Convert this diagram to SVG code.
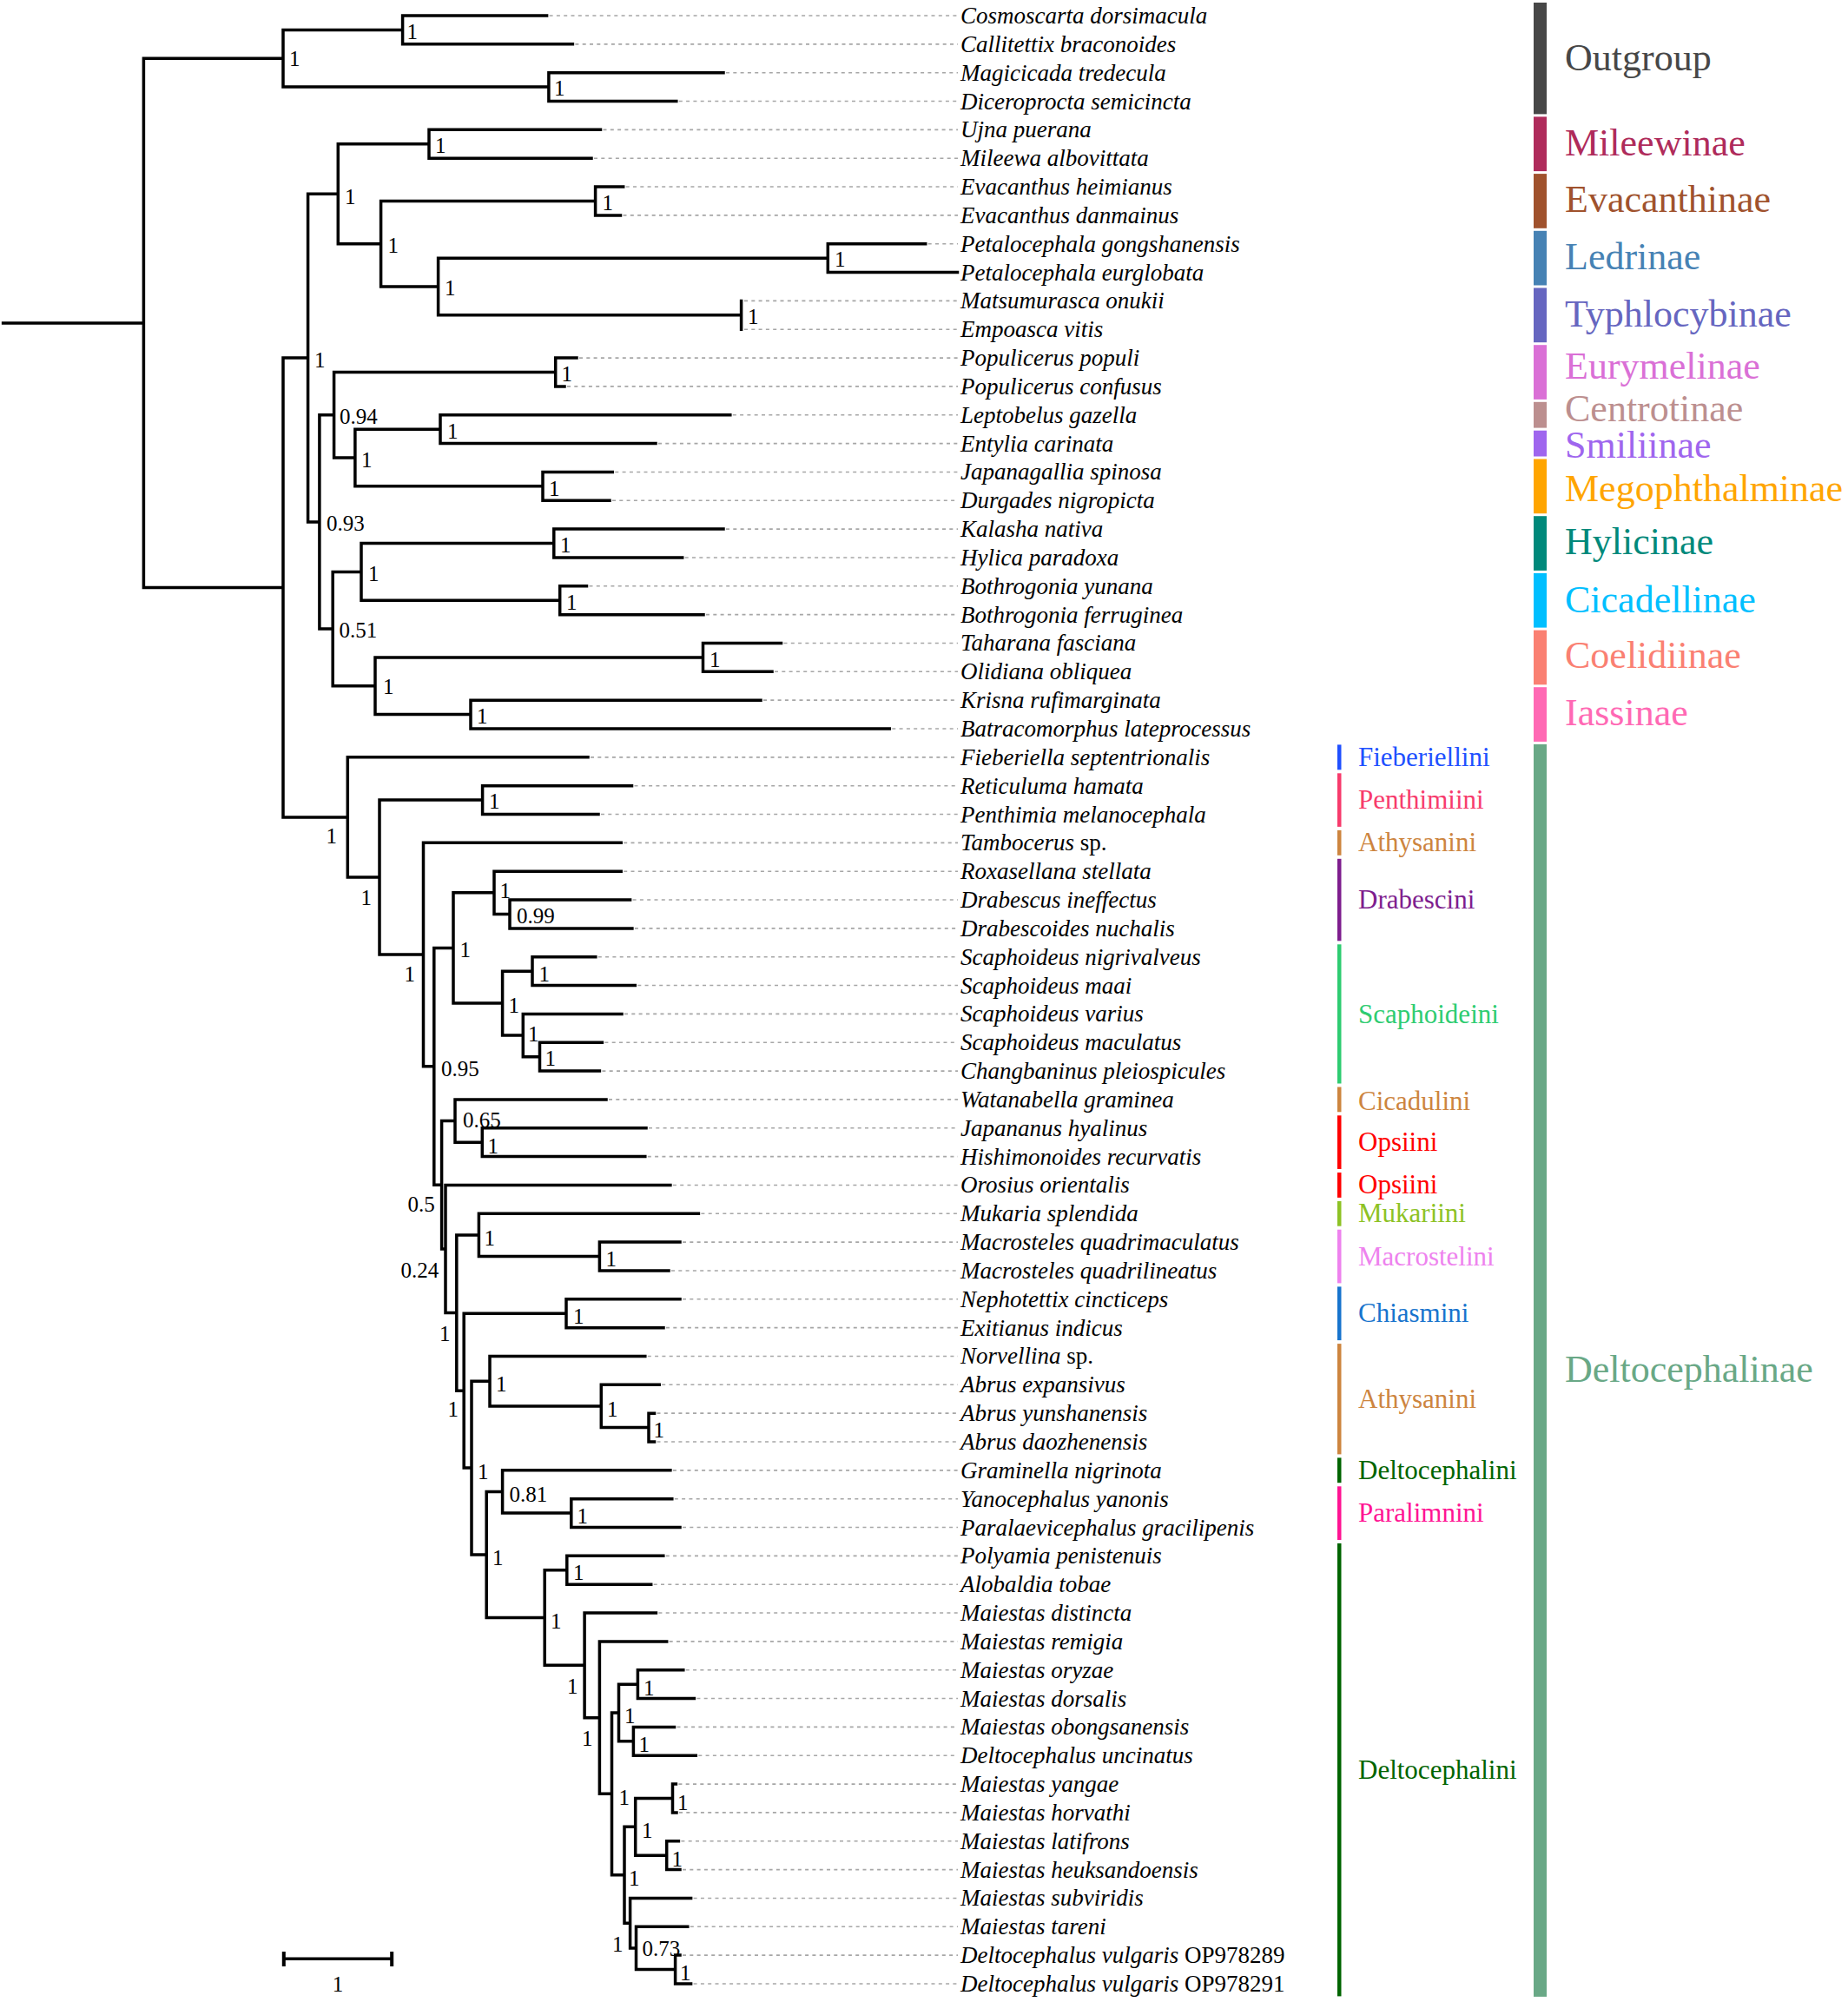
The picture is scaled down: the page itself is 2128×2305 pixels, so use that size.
<svg xmlns="http://www.w3.org/2000/svg" width="2128" height="2305" viewBox="0 0 2128 2305">
<style>
.br{fill:none;stroke:#000;stroke-width:3.5;stroke-linecap:square}
.ds{fill:none;stroke:#a6a6a6;stroke-width:1.6;stroke-dasharray:4 4.3}
text{font-family:"Liberation Serif","Times New Roman",serif}
.tip{font-style:italic;font-size:27px;fill:#000}
.rm{font-style:normal}
.sup{font-size:25px;fill:#000}
.sub{font-size:44px}
.tri{font-size:31px}
</style>
<rect width="2128" height="2305" fill="#fff"/>
<g id="connectors">
<path class="br" d="M3.6 371.9H165.4M165.4 67.26V676.5
M165.4 67.26H326M326 34.42V100.1
M326 34.42H463.6M463.6 18V50.84M463.6 18H629.6M463.6 50.84H659.4
M326 100.1H631.9M631.9 83.68V116.52M631.9 83.68H833M631.9 116.52H778.8
M165.4 676.5H326M326 412.08V940.97
M326 412.08H354.6M354.6 223.25V600.91
M354.6 223.25H389.3M389.3 165.78V280.72
M389.3 165.78H494M494 149.36V182.2M494 149.36H691.5M494 182.2H681
M389.3 280.72H438.6M438.6 231.46V329.98
M438.6 231.46H685.6M685.6 215.04V247.88M685.6 215.04H717.7M685.6 247.88H714.5
M438.6 329.98H504.6M504.6 297.14V362.82
M504.6 297.14H953.3M953.3 280.72V313.56M953.3 280.72H1065.7M953.3 313.56H1102.5
M504.6 362.82H853.6M853.6 346.4V379.24
M354.6 600.91H367.9M367.9 477.76V724.06
M367.9 477.76H384.6M384.6 428.5V527.02
M384.6 428.5H639.7M639.7 412.08V444.92M639.7 412.08H664M639.7 444.92H650
M384.6 527.02H408.9M408.9 494.18V559.86
M408.9 494.18H507M507 477.76V510.6M507 477.76H840.8M507 510.6H755
M408.9 559.86H625M625 543.44V576.28M625 543.44H705.3M625 576.28H702
M367.9 724.06H383.2M383.2 658.38V789.74
M383.2 658.38H416M416 625.54V691.22
M416 625.54H637.8M637.8 609.12V641.96M637.8 609.12H833M637.8 641.96H785.7
M416 691.22H644.7M644.7 674.8V707.64M644.7 674.8H675.5M644.7 707.64H810
M383.2 789.74H432M432 756.9V822.58
M432 756.9H809.5M809.5 740.48V773.32M809.5 740.48H899.5M809.5 773.32H889
M432 822.58H542M542 806.16V839M542 806.16H876M542 839H1024.3
M326 940.97H400.3M400.3 871.84V1010.1M400.3 871.84H677
M400.3 1010.1H437M437 921.1V1099.1
M437 921.1H555.6M555.6 904.68V937.52M555.6 904.68H727.5M555.6 937.52H689
M437 1099.1H487.5M487.5 970.36V1227.87M487.5 970.36H715.2
M487.5 1227.87H499.8M499.8 1091.46V1364.27
M499.8 1091.46H522M522 1027.83V1155.09
M522 1027.83H569M569 1003.2V1052.46M569 1003.2H715.2
M569 1052.46H587M587 1036.04V1068.88M587 1036.04H725.6M587 1068.88H727.9
M522 1155.09H578.6M578.6 1118.14V1192.03
M578.6 1118.14H613M613 1101.72V1134.56M613 1101.72H685.8M613 1134.56H731.3
M578.6 1192.03H602.3M602.3 1167.4V1216.66M602.3 1167.4H716
M602.3 1216.66H621.5M621.5 1200.24V1233.08M621.5 1200.24H693.4M621.5 1233.08H690.4
M499.8 1364.27H508.6M508.6 1290.55V1437.99
M508.6 1290.55H524M524 1265.92V1315.18M524 1265.92H698
M524 1315.18H555.3M555.3 1298.76V1331.6M555.3 1298.76H744M555.3 1331.6H742.8
M508.6 1437.99H513M513 1364.44V1511.54M513 1364.44H771.9
M513 1511.54H525.8M525.8 1421.91V1601.17
M525.8 1421.91H551.4M551.4 1397.28V1446.54M551.4 1397.28H804.4
M551.4 1446.54H690.4M690.4 1430.12V1462.96M690.4 1430.12H783M690.4 1462.96H770
M525.8 1601.17H534.2M534.2 1512.22V1690.12
M534.2 1512.22H652M652 1495.8V1528.64M652 1495.8H783M652 1528.64H764
M534.2 1690.12H543M543 1590.22V1790.01
M543 1590.22H564M564 1561.48V1618.95M564 1561.48H742.8
M564 1618.95H692.3M692.3 1594.32V1643.58M692.3 1594.32H759.2
M692.3 1643.58H747M747 1627.16V1660M747 1627.16H753.5M747 1660H753.5
M543 1790.01H560.2M560.2 1717.47V1862.56
M560.2 1717.47H578.6M578.6 1692.84V1742.1M578.6 1692.84H771.9
M578.6 1742.1H657.8M657.8 1725.68V1758.52M657.8 1725.68H773.8M657.8 1758.52H783
M560.2 1862.56H627.2M627.2 1807.78V1917.33
M627.2 1807.78H652.8M652.8 1791.36V1824.2M652.8 1791.36H763.8M652.8 1824.2H749.7
M627.2 1917.33H673.1M673.1 1857.04V1977.63M673.1 1857.04H755.4
M673.1 1977.63H690.4M690.4 1889.88V2065.37M690.4 1889.88H767.7
M690.4 2065.37H704.5M704.5 1971.98V2158.76
M704.5 1971.98H712.5M712.5 1939.14V2004.82
M712.5 1939.14H734.4M734.4 1922.72V1955.56M734.4 1922.72H786.8M734.4 1955.56H799.4
M712.5 2004.82H729.4M729.4 1988.4V2021.24M729.4 1988.4H776.5M729.4 2021.24H801.3
M704.5 2158.76H719M719 2103.34V2214.18
M719 2103.34H731.7M731.7 2070.5V2136.18
M731.7 2070.5H774.5M774.5 2054.08V2086.92M774.5 2054.08H778.4M774.5 2086.92H779
M731.7 2136.18H767.7M767.7 2119.76V2152.6M767.7 2119.76H781.4M767.7 2152.6H783
M719 2214.18H725.6M725.6 2185.44V2242.91M725.6 2185.44H795.6
M725.6 2242.91H732.5M732.5 2218.28V2267.54M732.5 2218.28H791.8
M732.5 2267.54H777.6M777.6 2251.12V2283.96M777.6 2251.12H783M777.6 2283.96H795.6"/>
<path class="ds" d="M632.6 18H1103M662.4 50.84H1103M836 83.68H1103M781.8 116.52H1103M694.5 149.36H1103M684 182.2H1103M720.7 215.04H1103M717.5 247.88H1103M1068.7 280.72H1103M857 346.4H1103M857 379.24H1103M667 412.08H1103M653 444.92H1103M843.8 477.76H1103M758 510.6H1103M708.3 543.44H1103M705 576.28H1103M836 609.12H1103M788.7 641.96H1103M678.5 674.8H1103M813 707.64H1103M902.5 740.48H1103M892 773.32H1103M879 806.16H1103M1027.3 839H1103M680 871.84H1103M730.5 904.68H1103M692 937.52H1103M718.2 970.36H1103M718.2 1003.2H1103M728.6 1036.04H1103M730.9 1068.88H1103M688.8 1101.72H1103M734.3 1134.56H1103M719 1167.4H1103M696.4 1200.24H1103M693.4 1233.08H1103M701 1265.92H1103M747 1298.76H1103M745.8 1331.6H1103M774.9 1364.44H1103M807.4 1397.28H1103M786 1430.12H1103M773 1462.96H1103M786 1495.8H1103M767 1528.64H1103M745.8 1561.48H1103M762.2 1594.32H1103M756.5 1627.16H1103M756.5 1660H1103M774.9 1692.84H1103M776.8 1725.68H1103M786 1758.52H1103M766.8 1791.36H1103M752.7 1824.2H1103M758.4 1857.04H1103M770.7 1889.88H1103M789.8 1922.72H1103M802.4 1955.56H1103M779.5 1988.4H1103M804.3 2021.24H1103M781.4 2054.08H1103M782 2086.92H1103M784.4 2119.76H1103M786 2152.6H1103M798.6 2185.44H1103M794.8 2218.28H1103M786 2251.12H1103M798.6 2283.96H1103"/>
</g>
<g id="support-values" class="sup">
<g id="n-og"><text x="333" y="76">1</text></g>
<g id="n-12"><text x="468.6" y="45">1</text></g>
<g id="n-34"><text x="638" y="110">1</text></g>
<g id="n-A"><text x="362" y="423">1</text></g>
<g id="n-B"><text x="397" y="234.5">1</text></g>
<g id="n-mil"><text x="501" y="175.5">1</text></g>
<g id="n-D"><text x="446.5" y="290.5">1</text></g>
<g id="n-eva"><text x="693.5" y="241.5">1</text></g>
<g id="n-E"><text x="512" y="340">1</text></g>
<g id="n-pet"><text x="961" y="307">1</text></g>
<g id="n-typ"><text x="861" y="373">1</text></g>
<g id="n-C"><text x="376" y="611">0.93</text></g>
<g id="n-F"><text x="391" y="488">0.94</text></g>
<g id="n-pop"><text x="646.5" y="438.5">1</text></g>
<g id="n-G"><text x="416" y="537.5">1</text></g>
<g id="n-lep"><text x="515" y="504.5">1</text></g>
<g id="n-meg"><text x="632" y="571">1</text></g>
<g id="n-H"><text x="390.5" y="734">0.51</text></g>
<g id="n-I"><text x="424" y="669">1</text></g>
<g id="n-kal"><text x="645" y="636">1</text></g>
<g id="n-bot"><text x="652" y="702">1</text></g>
<g id="n-J"><text x="441" y="799">1</text></g>
<g id="n-coe"><text x="817" y="767.5">1</text></g>
<g id="n-ias"><text x="549" y="833">1</text></g>
<g id="n-K"><text x="375.5" y="971">1</text></g>
<g id="n-L"><text x="415.5" y="1042">1</text></g>
<g id="n-pen"><text x="563" y="931">1</text></g>
<g id="n-M"><text x="465.5" y="1130">1</text></g>
<g id="n-N"><text x="508" y="1239">0.95</text></g>
<g id="n-O"><text x="529.5" y="1102">1</text></g>
<g id="n-P"><text x="575.5" y="1034">1</text></g>
<g id="n-Q"><text x="595" y="1063">0.99</text></g>
<g id="n-R"><text x="585.5" y="1166">1</text></g>
<g id="n-S"><text x="620.5" y="1130">1</text></g>
<g id="n-U"><text x="608" y="1199">1</text></g>
<g id="n-V"><text x="627.5" y="1227">1</text></g>
<g id="n-W"><text x="469.5" y="1395">0.5</text></g>
<g id="n-X"><text x="533" y="1297.5">0.65</text></g>
<g id="n-Y"><text x="561.5" y="1328">1</text></g>
<g id="n-Z"><text x="461.5" y="1471">0.24</text></g>
<g id="n-AA"><text x="506" y="1544">1</text></g>
<g id="n-BB"><text x="557.5" y="1434">1</text></g>
<g id="n-CC"><text x="697.5" y="1458">1</text></g>
<g id="n-GG"><text x="660" y="1524">1</text></g>
<g id="n-DD"><text x="515.5" y="1631">1</text></g>
<g id="n-EE"><text x="550" y="1703">1</text></g>
<g id="n-FF"><text x="571" y="1602">1</text></g>
<g id="n-II"><text x="699" y="1631">1</text></g>
<g id="n-JJ"><text x="752.5" y="1655">1</text></g>
<g id="n-HH"><text x="567" y="1802">1</text></g>
<g id="n-KK"><text x="586.5" y="1729">0.81</text></g>
<g id="n-LL"><text x="664.5" y="1754">1</text></g>
<g id="n-MM"><text x="634" y="1875">1</text></g>
<g id="n-NN"><text x="660" y="1819">1</text></g>
<g id="n-OO"><text x="653" y="1950">1</text></g>
<g id="n-PP"><text x="670" y="2010">1</text></g>
<g id="n-QQ"><text x="712.5" y="2078">1</text></g>
<g id="n-RR"><text x="719" y="1984">1</text></g>
<g id="n-SS"><text x="741" y="1952">1</text></g>
<g id="n-TT"><text x="735.5" y="2017">1</text></g>
<g id="n-UU"><text x="724" y="2171">1</text></g>
<g id="n-VV"><text x="739" y="2116">1</text></g>
<g id="n-WW"><text x="780" y="2084">1</text></g>
<g id="n-XX"><text x="773.5" y="2149">1</text></g>
<g id="n-YY"><text x="705" y="2247">1</text></g>
<g id="n-ZZ"><text x="739.5" y="2252">0.73</text></g>
<g id="n-AAA"><text x="783" y="2280">1</text></g>
</g>
<g id="tips" class="tip">
<g id="t01"><text x="1106" y="27">Cosmoscarta dorsimacula</text></g>
<g id="t02"><text x="1106" y="59.84">Callitettix braconoides</text></g>
<g id="t03"><text x="1106" y="92.68">Magicicada tredecula</text></g>
<g id="t04"><text x="1106" y="125.52">Diceroprocta semicincta</text></g>
<g id="t05"><text x="1106" y="158.36">Ujna puerana</text></g>
<g id="t06"><text x="1106" y="191.2">Mileewa albovittata</text></g>
<g id="t07"><text x="1106" y="224.04">Evacanthus heimianus</text></g>
<g id="t08"><text x="1106" y="256.88">Evacanthus danmainus</text></g>
<g id="t09"><text x="1106" y="289.72">Petalocephala gongshanensis</text></g>
<g id="t10"><text x="1106" y="322.56">Petalocephala eurglobata</text></g>
<g id="t11"><text x="1106" y="355.4">Matsumurasca onukii</text></g>
<g id="t12"><text x="1106" y="388.24">Empoasca vitis</text></g>
<g id="t13"><text x="1106" y="421.08">Populicerus populi</text></g>
<g id="t14"><text x="1106" y="453.92">Populicerus confusus</text></g>
<g id="t15"><text x="1106" y="486.76">Leptobelus gazella</text></g>
<g id="t16"><text x="1106" y="519.6">Entylia carinata</text></g>
<g id="t17"><text x="1106" y="552.44">Japanagallia spinosa</text></g>
<g id="t18"><text x="1106" y="585.28">Durgades nigropicta</text></g>
<g id="t19"><text x="1106" y="618.12">Kalasha nativa</text></g>
<g id="t20"><text x="1106" y="650.96">Hylica paradoxa</text></g>
<g id="t21"><text x="1106" y="683.8">Bothrogonia yunana</text></g>
<g id="t22"><text x="1106" y="716.64">Bothrogonia ferruginea</text></g>
<g id="t23"><text x="1106" y="749.48">Taharana fasciana</text></g>
<g id="t24"><text x="1106" y="782.32">Olidiana obliquea</text></g>
<g id="t25"><text x="1106" y="815.16">Krisna rufimarginata</text></g>
<g id="t26"><text x="1106" y="848">Batracomorphus lateprocessus</text></g>
<g id="t27"><text x="1106" y="880.84">Fieberiella septentrionalis</text></g>
<g id="t28"><text x="1106" y="913.68">Reticuluma hamata</text></g>
<g id="t29"><text x="1106" y="946.52">Penthimia melanocephala</text></g>
<g id="t30"><text x="1106" y="979.36">Tambocerus <tspan class="rm">sp.</tspan></text></g>
<g id="t31"><text x="1106" y="1012.2">Roxasellana stellata</text></g>
<g id="t32"><text x="1106" y="1045.04">Drabescus ineffectus</text></g>
<g id="t33"><text x="1106" y="1077.88">Drabescoides nuchalis</text></g>
<g id="t34"><text x="1106" y="1110.72">Scaphoideus nigrivalveus</text></g>
<g id="t35"><text x="1106" y="1143.56">Scaphoideus maai</text></g>
<g id="t36"><text x="1106" y="1176.4">Scaphoideus varius</text></g>
<g id="t37"><text x="1106" y="1209.24">Scaphoideus maculatus</text></g>
<g id="t38"><text x="1106" y="1242.08">Changbaninus pleiospicules</text></g>
<g id="t39"><text x="1106" y="1274.92">Watanabella graminea</text></g>
<g id="t40"><text x="1106" y="1307.76">Japananus hyalinus</text></g>
<g id="t41"><text x="1106" y="1340.6">Hishimonoides recurvatis</text></g>
<g id="t42"><text x="1106" y="1373.44">Orosius orientalis</text></g>
<g id="t43"><text x="1106" y="1406.28">Mukaria splendida</text></g>
<g id="t44"><text x="1106" y="1439.12">Macrosteles quadrimaculatus</text></g>
<g id="t45"><text x="1106" y="1471.96">Macrosteles quadrilineatus</text></g>
<g id="t46"><text x="1106" y="1504.8">Nephotettix cincticeps</text></g>
<g id="t47"><text x="1106" y="1537.64">Exitianus indicus</text></g>
<g id="t48"><text x="1106" y="1570.48">Norvellina <tspan class="rm">sp.</tspan></text></g>
<g id="t49"><text x="1106" y="1603.32">Abrus expansivus</text></g>
<g id="t50"><text x="1106" y="1636.16">Abrus yunshanensis</text></g>
<g id="t51"><text x="1106" y="1669">Abrus daozhenensis</text></g>
<g id="t52"><text x="1106" y="1701.84">Graminella nigrinota</text></g>
<g id="t53"><text x="1106" y="1734.68">Yanocephalus yanonis</text></g>
<g id="t54"><text x="1106" y="1767.52">Paralaevicephalus gracilipenis</text></g>
<g id="t55"><text x="1106" y="1800.36">Polyamia penistenuis</text></g>
<g id="t56"><text x="1106" y="1833.2">Alobaldia tobae</text></g>
<g id="t57"><text x="1106" y="1866.04">Maiestas distincta</text></g>
<g id="t58"><text x="1106" y="1898.88">Maiestas remigia</text></g>
<g id="t59"><text x="1106" y="1931.72">Maiestas oryzae</text></g>
<g id="t60"><text x="1106" y="1964.56">Maiestas dorsalis</text></g>
<g id="t61"><text x="1106" y="1997.4">Maiestas obongsanensis</text></g>
<g id="t62"><text x="1106" y="2030.24">Deltocephalus uncinatus</text></g>
<g id="t63"><text x="1106" y="2063.08">Maiestas yangae</text></g>
<g id="t64"><text x="1106" y="2095.92">Maiestas horvathi</text></g>
<g id="t65"><text x="1106" y="2128.76">Maiestas latifrons</text></g>
<g id="t66"><text x="1106" y="2161.6">Maiestas heuksandoensis</text></g>
<g id="t67"><text x="1106" y="2194.44">Maiestas subviridis</text></g>
<g id="t68"><text x="1106" y="2227.28">Maiestas tareni</text></g>
<g id="t69"><text x="1106" y="2260.12">Deltocephalus vulgaris <tspan class="rm">OP978289</tspan></text></g>
<g id="t70"><text x="1106" y="2292.96">Deltocephalus vulgaris <tspan class="rm">OP978291</tspan></text></g>
</g>
<g id="tribes" class="tri">
<g id="tr-fie" fill="#2050ff"><rect x="1540" y="857.4" width="4.5" height="28.9"/><text x="1564" y="881.6">Fieberiellini</text></g>
<g id="tr-pen" fill="#f73b6c"><rect x="1540" y="890.3" width="4.5" height="61.6"/><text x="1564" y="930.6">Penthimiini</text></g>
<g id="tr-ath1" fill="#cd853f"><rect x="1540" y="955.9" width="4.5" height="28.9"/><text x="1564" y="979.6">Athysanini</text></g>
<g id="tr-dra" fill="#7e1e8e"><rect x="1540" y="988.8" width="4.5" height="94.5"/><text x="1564" y="1046">Drabescini</text></g>
<g id="tr-sca" fill="#2ecc71"><rect x="1540" y="1087.3" width="4.5" height="160.2"/><text x="1564" y="1177.5">Scaphoideini</text></g>
<g id="tr-cic" fill="#cd853f"><rect x="1540" y="1251.5" width="4.5" height="28.8"/><text x="1564" y="1278">Cicadulini</text></g>
<g id="tr-ops1" fill="#ff0000"><rect x="1540" y="1284.3" width="4.5" height="61.7"/><text x="1564" y="1324.5">Opsiini</text></g>
<g id="tr-ops2" fill="#ff0000"><rect x="1540" y="1350" width="4.5" height="28.9"/><text x="1564" y="1374">Opsiini</text></g>
<g id="tr-muk" fill="#8dc225"><rect x="1540" y="1382.9" width="4.5" height="28.8"/><text x="1564" y="1407">Mukariini</text></g>
<g id="tr-mac" fill="#ee82ee"><rect x="1540" y="1415.7" width="4.5" height="61.7"/><text x="1564" y="1456.6">Macrostelini</text></g>
<g id="tr-chi" fill="#1874cd"><rect x="1540" y="1481.4" width="4.5" height="61.7"/><text x="1564" y="1522">Chiasmini</text></g>
<g id="tr-ath2" fill="#cd853f"><rect x="1540" y="1547.1" width="4.5" height="127.3"/><text x="1564" y="1621">Athysanini</text></g>
<g id="tr-del1" fill="#006400"><rect x="1540" y="1678.4" width="4.5" height="28.8"/><text x="1564" y="1703">Deltocephalini</text></g>
<g id="tr-par" fill="#ff1493"><rect x="1540" y="1711.3" width="4.5" height="61.7"/><text x="1564" y="1752">Paralimnini</text></g>
<g id="tr-del2" fill="#006400"><rect x="1540" y="1776.9" width="4.5" height="521.5"/><text x="1564" y="2048">Deltocephalini</text></g>
</g>
<g id="subfamilies" class="sub">
<g id="sf-out" fill="#474747"><rect x="1766" y="3" width="15" height="128.4"/><text x="1802" y="80.5">Outgroup</text></g>
<g id="sf-mil" fill="#af2b5b"><rect x="1766" y="134.4" width="15" height="62.7"/><text x="1802" y="179">Mileewinae</text></g>
<g id="sf-eva" fill="#a0522d"><rect x="1766" y="200.1" width="15" height="62.7"/><text x="1802" y="244">Evacanthinae</text></g>
<g id="sf-led" fill="#4682b4"><rect x="1766" y="265.8" width="15" height="62.7"/><text x="1802" y="310">Ledrinae</text></g>
<g id="sf-typ" fill="#6666c0"><rect x="1766" y="331.5" width="15" height="62.7"/><text x="1802" y="376">Typhlocybinae</text></g>
<g id="sf-eur" fill="#da70d6"><rect x="1766" y="397.2" width="15" height="62.7"/><text x="1802" y="436.3">Eurymelinae</text></g>
<g id="sf-cen" fill="#bc8f8f"><rect x="1766" y="462.8" width="15" height="29.8"/><text x="1802" y="485">Centrotinae</text></g>
<g id="sf-smi" fill="#9f66ee"><rect x="1766" y="495.7" width="15" height="29.8"/><text x="1802" y="527">Smiliinae</text></g>
<g id="sf-meg" fill="#ffa500"><rect x="1766" y="528.5" width="15" height="62.7"/><text x="1802" y="577">Megophthalminae</text></g>
<g id="sf-hyl" fill="#00897b"><rect x="1766" y="594.2" width="15" height="62.7"/><text x="1802" y="638">Hylicinae</text></g>
<g id="sf-cic" fill="#00bfff"><rect x="1766" y="659.9" width="15" height="62.7"/><text x="1802" y="705">Cicadellinae</text></g>
<g id="sf-coe" fill="#fa8072"><rect x="1766" y="725.6" width="15" height="62.7"/><text x="1802" y="769">Coelidiinae</text></g>
<g id="sf-ias" fill="#ff69b4"><rect x="1766" y="791.2" width="15" height="62.7"/><text x="1802" y="835">Iassinae</text></g>
<g id="sf-del" fill="#69a886"><rect x="1766" y="856.9" width="15" height="1442"/><text x="1802" y="1591">Deltocephalinae</text></g>
</g>
<g id="scale-bar">
<path d="M326.8 2255.3H451.2" stroke="#000" stroke-width="3.5" fill="none"/>
<path d="M326.8 2247V2264M451.2 2247V2264" stroke="#000" stroke-width="4" fill="none"/>
<text class="sup" x="389" y="2293" text-anchor="middle">1</text>
</g>
</svg>
